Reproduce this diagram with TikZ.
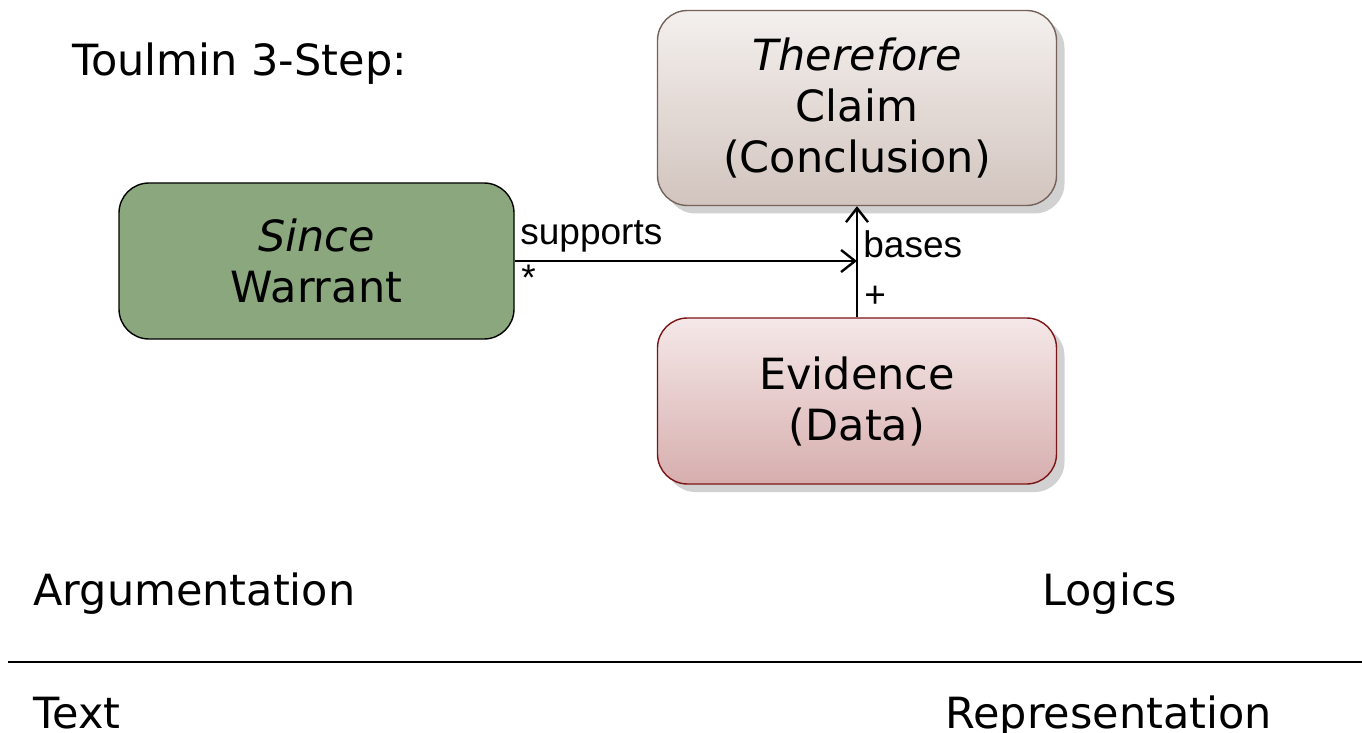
\documentclass[tikz,border=0pt]{standalone}
\usepackage{fontspec}
\setmainfont{DejaVu Sans}
\newfontfamily\lblfont{Liberation Sans}
\usetikzlibrary{arrows.meta,shadows}
\definecolor{warrantfill}{HTML}{8BA77D}
\definecolor{claimtop}{HTML}{F4F0EE}
\definecolor{claimbot}{HTML}{D2C4BE}
\definecolor{claimline}{HTML}{75635B}
\definecolor{evidtop}{HTML}{F5E8E8}
\definecolor{evidbot}{HTML}{D7AEAE}
\definecolor{evidline}{HTML}{7B1414}
\tikzstyle{block} = [draw, rectangle, rounded corners=15pt, line width=0.7pt,
    align=center, font=\fontsize{21.5}{25.5}\selectfont]
\tikzstyle{shade} = [drop shadow={shadow xshift=4pt, shadow yshift=-4pt,
    fill=black!18, opacity=1}]
\tikzstyle{plain} = [anchor=base west, inner sep=0pt, font=\fontsize{21.5}{25}\selectfont]
\tikzstyle{lbl} = [anchor=base west, inner sep=0pt, font=\lblfont\fontsize{18.5}{20}\selectfont]

\begin{document}
\begin{tikzpicture}[x=0.5pt, y=-0.5pt, >={Straight Barb[length=7pt,width=11pt,line width=1.2pt]}]
    \useasboundingbox (0,0) rectangle (1362,733);
    \node [block, shade, top color=claimtop, bottom color=claimbot, draw=claimline,
        minimum width=199.5pt, minimum height=97.5pt] (claim) at (857,108) {\textit{Therefore}\\Claim\\(Conclusion)};
    \node [block, fill=warrantfill, draw=black,
        minimum width=197.5pt, minimum height=78pt] (warrant) at (316.5,261) {\textit{Since}\\Warrant};
    \node [block, shade, top color=evidtop, bottom color=evidbot, draw=evidline,
        minimum width=199.5pt, minimum height=83pt] (evidence) at (857,401) {Evidence\\(Data)};

    \node [plain] (title) at (72,76) {Toulmin 3-Step:};
    \node [plain] (argu) at (33,605) {Argumentation};
    \node [plain] (logics) at (1042,605) {Logics};
    \node [plain] (text) at (33,728) {Text};
    \node [plain] (repr) at (945,728) {Representation};
    \coordinate (sepl) at (8,662);
    \coordinate (sepr) at (1362,662);
    \draw [line width=1pt] (sepl) -- (sepr);

    \draw [->, line width=0.9pt] (warrant.east) -- (warrant.east -| claim.south);
    \draw [->, line width=0.9pt] (evidence.north) -- (claim.south);
    \node [lbl] (supp) at (520,245) {supports};
    \node [lbl] (star) at (521,291) {*};
    \node [lbl] (bases) at (863,257) {bases};
    \node [lbl] (plus) at (864,307) {+};
\end{tikzpicture}
\end{document}
